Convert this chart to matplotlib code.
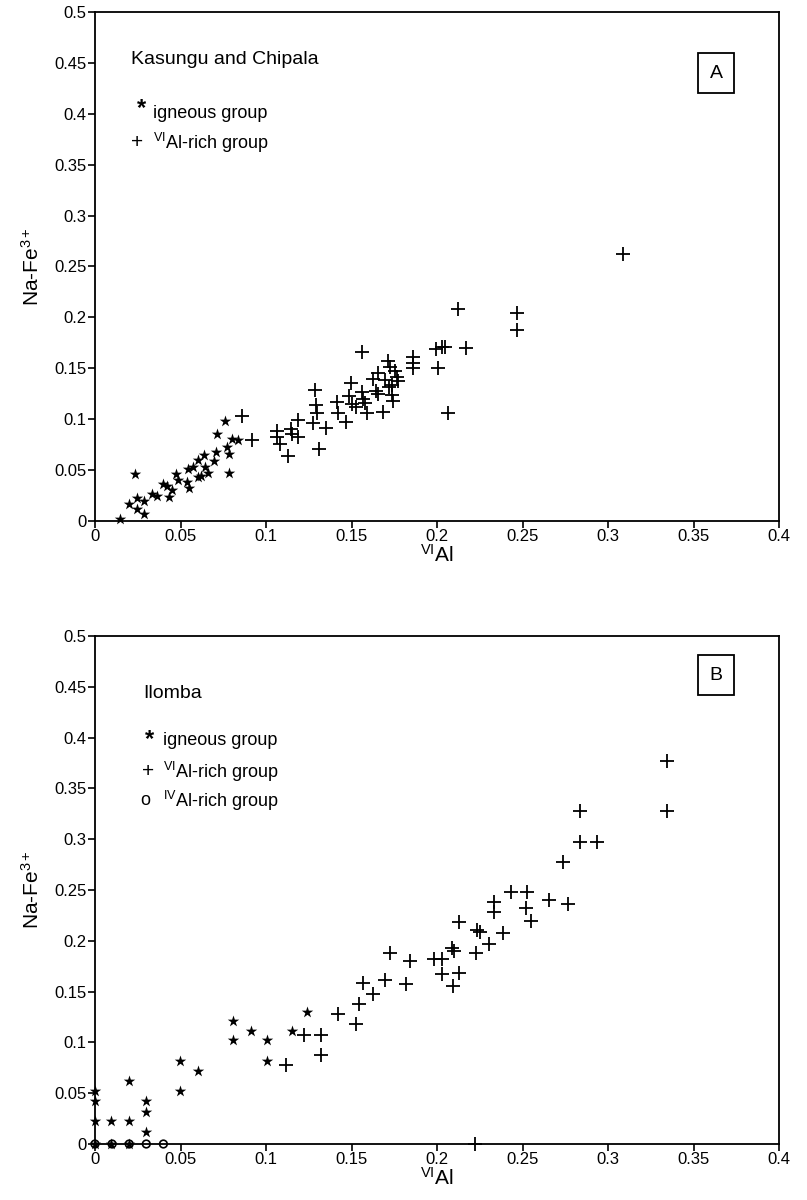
import numpy as np
import matplotlib.pyplot as plt

plt.rcParams['font.family'] = ['Liberation Sans', 'DejaVu Sans']
plt.rcParams['mathtext.fontset'] = 'custom'
plt.rcParams['mathtext.rm'] = 'Liberation Sans'
plt.rcParams['mathtext.it'] = 'Liberation Sans'

# ---- panel A: Kasungu and Chipala ----
a_ign_x = [0.0146, 0.020, 0.0244, 0.0244, 0.0287, 0.0287, 0.0234, 0.0331, 0.0365, 0.040,
           0.0423, 0.0448, 0.0435, 0.0474, 0.0487, 0.0536, 0.0552, 0.0546, 0.0571, 0.0605,
           0.0618, 0.0605, 0.0643, 0.0637, 0.0663, 0.0696, 0.0708, 0.0716, 0.076, 0.077,
           0.0786, 0.0786, 0.080, 0.0838]
a_ign_y = [0.002, 0.0167, 0.023, 0.0115, 0.020, 0.0069, 0.046, 0.027, 0.025, 0.036,
           0.034, 0.030, 0.024, 0.046, 0.040, 0.038, 0.032, 0.051, 0.053, 0.0435,
           0.044, 0.060, 0.0527, 0.065, 0.0475, 0.059, 0.068, 0.0855, 0.0985, 0.073,
           0.0658, 0.0469, 0.081, 0.0796]

a_vi_x = [0.0858, 0.0916, 0.1066, 0.1066, 0.108, 0.1144, 0.115, 0.1189, 0.1189, 0.113,
          0.1312, 0.1287, 0.129, 0.1296, 0.1277, 0.135, 0.1413, 0.1423, 0.1468, 0.1495,
          0.1487, 0.150, 0.1526, 0.156, 0.157, 0.158, 0.1592, 0.156, 0.1628, 0.1643,
          0.1657, 0.1657, 0.1686, 0.1696, 0.1715, 0.1725, 0.1721, 0.1735, 0.1745, 0.1754,
          0.1764, 0.1774, 0.1735, 0.1857, 0.1857, 0.186, 0.1994, 0.2027, 0.2047, 0.2008,
          0.2066, 0.212, 0.217, 0.247, 0.247, 0.309]
a_vi_y = [0.103, 0.080, 0.0887, 0.0828, 0.0756, 0.090, 0.0855, 0.099, 0.0828, 0.064,
          0.0704, 0.129, 0.114, 0.106, 0.0966, 0.091, 0.117, 0.106, 0.097, 0.136,
          0.123, 0.115, 0.112, 0.127, 0.1195, 0.1156, 0.106, 0.166, 0.139, 0.128,
          0.1248, 0.1457, 0.1074, 0.1385, 0.1575, 0.1516, 0.132, 0.1238, 0.118, 0.1476,
          0.1417, 0.1378, 0.1336, 0.161, 0.155, 0.150, 0.1687, 0.1706, 0.1713, 0.150,
          0.1058, 0.2085, 0.1695, 0.204, 0.1875, 0.262]

# ---- panel B: Ilomba ----
b_ign_x = [0.0, 0.0, 0.0, 0.0095, 0.0199, 0.0199, 0.030, 0.030, 0.030, 0.0497,
           0.0497, 0.0603, 0.0805, 0.0805, 0.091, 0.1006, 0.1006, 0.1154, 0.1238,
           0.0, 0.0095, 0.0199]
b_ign_y = [0.0525, 0.0426, 0.0226, 0.0226, 0.0226, 0.0623, 0.0426, 0.0318, 0.0115, 0.0817,
           0.0525, 0.0722, 0.1215, 0.102, 0.111, 0.102, 0.0817, 0.1115, 0.1296,
           0.0, 0.0, 0.0]

b_vi_x = [0.1115, 0.1225, 0.1322, 0.1322, 0.142, 0.1526, 0.1542, 0.157, 0.1625, 0.1695,
          0.1728, 0.182, 0.184, 0.1983, 0.2032, 0.2028, 0.213, 0.2095, 0.2087, 0.2101,
          0.213, 0.2228, 0.2232, 0.2252, 0.2303, 0.2385, 0.2336, 0.2336, 0.2431, 0.2528,
          0.2522, 0.2548, 0.2656, 0.2764, 0.2734, 0.2836, 0.2836, 0.2938, 0.3346, 0.3346,
          0.222]
b_vi_y = [0.0775, 0.1073, 0.1073, 0.0873, 0.128, 0.1178, 0.1378, 0.158, 0.1476, 0.1614,
          0.1878, 0.1575, 0.1804, 0.1818, 0.1818, 0.1673, 0.168, 0.1555, 0.1926, 0.1903,
          0.2182, 0.1877, 0.2106, 0.209, 0.1969, 0.208, 0.2379, 0.228, 0.2477, 0.2477,
          0.232, 0.2198, 0.2402, 0.2359, 0.2779, 0.3278, 0.2976, 0.2976, 0.3773, 0.3278,
          0.0]

b_iv_x = [0.0, 0.01, 0.02, 0.03, 0.04]
b_iv_y = [0.0, 0.0, 0.0, 0.0, 0.0]

x_ticks = [0, 0.05, 0.1, 0.15, 0.2, 0.25, 0.3, 0.35, 0.4]
x_labels = ['0', '0.05', '0.1', '0.15', '0.2', '0.25', '0.3', '0.35', '0.4']
y_ticks = [0, 0.05, 0.1, 0.15, 0.2, 0.25, 0.3, 0.35, 0.4, 0.45, 0.5]
y_labels = ['0', '0.05', '0.1', '0.15', '0.2', '0.25', '0.3', '0.35', '0.4', '0.45', '0.5']

fig = plt.figure(figsize=(8.07, 12), dpi=100)
axA = fig.add_axes([95 / 807, 1 - 521 / 1200, 684 / 807, 509 / 1200])
axB = fig.add_axes([95 / 807, 1 - 1144 / 1200, 684 / 807, 508 / 1200])


def style(ax):
    ax.set_xlim(0, 0.4)
    ax.set_ylim(0, 0.5)
    ax.set_xticks(x_ticks)
    ax.set_xticklabels(x_labels)
    ax.set_yticks(y_ticks)
    ax.set_yticklabels(y_labels)
    ax.tick_params(direction='out', length=5, width=1.2, labelsize=12, pad=1)
    for s in ax.spines.values():
        s.set_linewidth(1.3)
    ax.set_xlabel(r'$^{\mathrm{VI}}$Al', fontsize=15, labelpad=0)
    ax.set_ylabel(r'Na-Fe$^{3+}$', fontsize=15, labelpad=8)


star = dict(marker='*', s=75, color='black', linewidths=0)
plus = dict(marker='+', s=90, color='black', linewidths=1.3)
box = dict(boxstyle='square,pad=0.6', fc='white', ec='black', lw=1.3)

axA.scatter(a_ign_x, a_ign_y, **star, clip_on=False, zorder=3)
axA.scatter(a_vi_x, a_vi_y, **plus, clip_on=False, zorder=3)
style(axA)
axA.text(0.052, 0.907, 'Kasungu and Chipala', transform=axA.transAxes, fontsize=14, va='center')
axA.text(0.068, 0.810, '*', transform=axA.transAxes, fontsize=17, fontweight='bold',
         va='center', ha='center')
axA.text(0.085, 0.801, 'igneous group', transform=axA.transAxes, fontsize=13, va='center')
axA.text(0.061, 0.743, '+', transform=axA.transAxes, fontsize=15, va='center', ha='center')
axA.text(0.085, 0.743, r'$^{\mathrm{VI}}$Al-rich group', transform=axA.transAxes, fontsize=13, va='center')
axA.text(0.908, 0.880, 'A', transform=axA.transAxes, fontsize=14, va='center', ha='center', bbox=box)

axB.scatter(b_iv_x, b_iv_y, marker='o', s=30, facecolors='none', edgecolors='black',
            linewidths=1.2, clip_on=False, zorder=3)
axB.scatter(b_ign_x, b_ign_y, **star, clip_on=False, zorder=3)
axB.scatter(b_vi_x, b_vi_y, **plus, clip_on=False, zorder=3)
style(axB)
axB.text(0.071, 0.886, 'Ilomba', transform=axB.transAxes, fontsize=14, va='center')
axB.text(0.079, 0.797, '*', transform=axB.transAxes, fontsize=17, fontweight='bold',
         va='center', ha='center')
axB.text(0.099, 0.794, 'igneous group', transform=axB.transAxes, fontsize=13, va='center')
axB.text(0.077, 0.733, '+', transform=axB.transAxes, fontsize=15, va='center', ha='center')
axB.text(0.099, 0.733, r'$^{\mathrm{VI}}$Al-rich group', transform=axB.transAxes, fontsize=13, va='center')
axB.text(0.074, 0.676, 'o', transform=axB.transAxes, fontsize=13, va='center', ha='center')
axB.text(0.099, 0.676, r'$^{\mathrm{IV}}$Al-rich group', transform=axB.transAxes, fontsize=13, va='center')
axB.text(0.908, 0.923, 'B', transform=axB.transAxes, fontsize=14, va='center', ha='center', bbox=box)

fig.savefig('out.png', dpi=100, facecolor='white')
